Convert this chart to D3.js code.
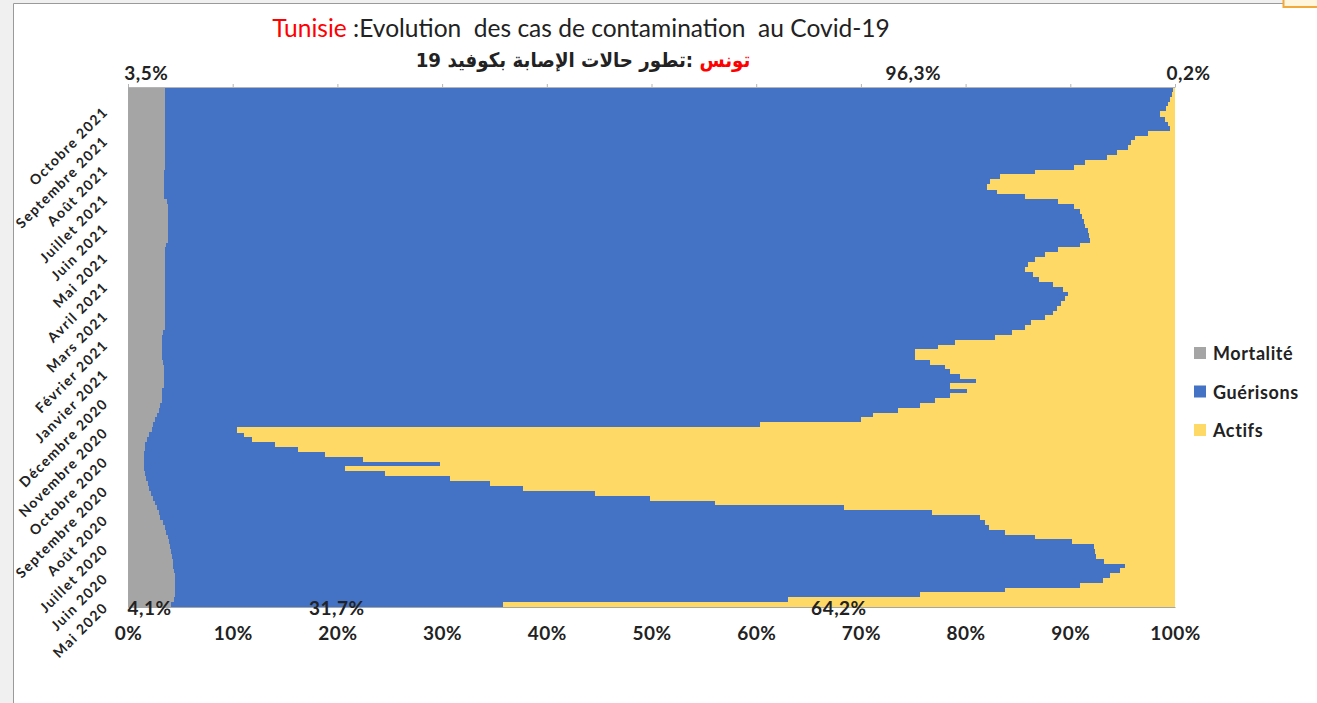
<!DOCTYPE html>
<html>
<head>
<meta charset="utf-8">
<script src="https://d3js.org/d3.v7.min.js"></script>
<style>
body{margin:0;background:#fff;}
svg text{font-family:Lato,"Open Sans",sans-serif;fill:#222;}
</style>
</head>
<body>
<svg id="chart" width="1317" height="703"></svg>
<script>
/* month names on the y axis, oldest first (one label every rowsPerMonth rows) */
var monthLabels = ["Mai 2020","Juin 2020","Juillet 2020","Août 2020","Septembre 2020","Octobre 2020",
    "Novembre 2020","Décembre 2020","Janvier 2021","Février 2021","Mars 2021","Avril 2021",
    "Mai 2021","Juin 2021","Juillet 2021","Août 2021","Septembre 2021","Octobre 2021"];
var rowsPerMonth = 6;

/* share of cases (%), one row per ~5 days, oldest row first */
var mortalite = [
    4.1,4.4,4.5,4.5,4.5,4.5,4.5,4.4,4.3,4.3,
    4.2,4.1,4.0,3.9,3.8,3.6,3.5,3.3,3.1,3.0,
    2.8,2.6,2.4,2.2,2.0,1.9,1.7,1.6,1.5,1.5,
    1.5,1.5,1.6,1.6,1.8,2.0,2.3,2.4,2.6,2.8,
    3.0,3.1,3.2,3.2,3.2,3.4,3.4,3.4,3.4,3.4,
    3.3,3.2,3.2,3.2,3.2,3.2,3.3,3.5,3.5,3.5,
    3.5,3.5,3.5,3.5,3.5,3.5,3.5,3.5,3.5,3.5,
    3.5,3.5,3.5,3.5,3.6,3.8,3.8,3.8,3.8,3.8,
    3.8,3.8,3.8,3.7,3.4,3.4,3.4,3.4,3.4,3.4,
    3.5,3.5,3.5,3.5,3.5,3.5,3.5,3.5,3.5,3.5,
    3.5,3.5,3.5,3.5,3.5,3.5,3.5];
var guerisons = [
    31.7,58.6,71.1,79.3,86.4,88.6,89.3,90.3,90.9,88.9,
    88.3,88.3,88.3,86.3,82.8,80.2,78.7,78.6,78.3,73.8,
    65.6,53.5,47.5,42.4,35.7,32.7,29.1,22.9,19.2,28.3,
    20.9,17.3,14.6,12.4,10.0,9.1,8.1,58.0,67.4,68.4,
    70.5,72.5,73.9,75.3,76.9,75.1,77.6,76.1,75.1,74.6,
    73.3,72.0,72.0,74.2,75.8,79.6,81.1,82.2,82.7,84.1,
    84.8,85.2,85.6,86.0,86.3,85.8,84.8,83.5,82.9,82.2,
    82.5,83.1,84.1,85.3,87.3,88.1,88.0,87.9,87.6,87.5,
    87.3,87.1,86.6,85.1,82.3,79.6,78.6,78.9,79.9,83.2,
    86.9,87.9,90.0,91.0,92.0,92.3,92.7,93.9,96.0,95.8,
    95.5,95.1,95.6,95.8,96.0,96.2,96.3];

var seriesNames = ["Mortalité","Guérisons","Actifs"];
var seriesColors = ["#a5a5a5","#4472c4","#ffd966"];
var xTicks = [0,10,20,30,40,50,60,70,80,90,100];

var svg = d3.select("#chart");
var plotLeft = 128, plotRight = 1175, plotTop = 87, plotBottom = 607;

/* outer frame of the sheet */
svg.append("rect").attr("x",0).attr("y",0).attr("width",13).attr("height",703).attr("fill","#f0f0f0");
svg.append("rect").attr("x",0).attr("y",0).attr("width",1317).attr("height",3).attr("fill","#f0f0f0");
svg.append("path").attr("d","M13.5,703V3.5H1317").attr("fill","none").attr("stroke","#9a9a9a");
svg.append("rect").attr("x",1283.5).attr("y",-4).attr("width",40).attr("height",11)
    .attr("fill","#fff6dd").attr("stroke","#f2a93b").attr("stroke-width",2);

/* table for the stack, actifs = rest of 100% */
var table = mortalite.map(function(m,i){
    var row = {row:i};
    row["Mortalité"] = m;
    row["Guérisons"] = guerisons[i];
    row["Actifs"] = Math.round((100 - m - guerisons[i])*10)/10;
    return row;
});
var series = d3.stack().keys(seriesNames)(table);

var x = d3.scaleLinear().domain([0,100]).range([plotLeft,plotRight]);
var y = d3.scaleBand().domain(d3.range(table.length)).range([plotBottom,plotTop]).padding(0);
var color = d3.scaleOrdinal().domain(seriesNames).range(seriesColors);

svg.append("g")
    .attr("shape-rendering","crispEdges")
    .selectAll("g")
    .data(series)
    .join("g")
    .attr("fill",function(d){return color(d.key);})
    .selectAll("rect")
    .data(function(d){return d;})
    .join("rect")
    .attr("x",function(d){return x(d[0]);})
    .attr("width",function(d){return x(d[1]) - x(d[0]);})
    .attr("y",function(d){return y(d.data.row);})
    .attr("height",function(d){return d.data.row == 0 ? y.bandwidth() : y.bandwidth() + 0.5;});

/* axes */
var xAxis = svg.append("g")
    .attr("transform","translate(0,"+plotBottom+")")
    .call(d3.axisBottom(x).tickValues(xTicks).tickSize(0).tickPadding(20)
	  .tickFormat(function(d){return d+"%";}));
xAxis.select(".domain").attr("stroke","#a6a6a6");
xAxis.selectAll("text").attr("font-size",19).attr("font-weight","bold")
    .attr("letter-spacing","0.5px").attr("font-family","Lato");

var topAxis = svg.append("g")
    .attr("transform","translate(0,"+plotTop+")")
    .call(d3.axisTop(x).tickValues(xTicks).tickSize(3).tickSizeOuter(0).tickFormat(""));
topAxis.selectAll("path,line").attr("stroke","#b5b5b5");

var yAxis = svg.append("g")
    .attr("transform","translate("+plotLeft+",0)")
    .call(d3.axisLeft(y).tickSize(0).tickSizeOuter(0)
	  .tickValues(d3.range(0,table.length,rowsPerMonth))
	  .tickFormat(function(d){return monthLabels[d/rowsPerMonth];}));
yAxis.select(".domain").attr("stroke","#a6a6a6");
yAxis.selectAll("text")
    .attr("x",0).attr("dy",0)
    .attr("text-anchor","end")
    .attr("transform","translate(-19,4) rotate(-45)")
    .attr("font-size",14).attr("font-weight","bold")
    .attr("letter-spacing","1.4px").attr("font-family","Lato");

/* data labels on the first and last rows */
function pct(v){ return d3.format(".1f")(v).replace(".",",") + "%"; }
var first = series.map(function(s){return s[0];});
var last = series.map(function(s){return s[s.length-1];});

svg.append("g").selectAll("text")
    .data(first)
    .join("text")
    .attr("x",function(d){return x((d[0]+d[1])/2);})
    .attr("y",plotBottom+8)
    .attr("text-anchor","middle")
    .attr("font-size",19).attr("font-weight","bold").attr("letter-spacing","0.5px")
    .text(function(d){return pct(d[1]-d[0]);});

/* labels of the last row sit above the plot, the middle one moved left as in the source */
var topLabelPos = [null, 75, 101.3];
svg.append("g").selectAll("text")
    .data(last)
    .join("text")
    .attr("x",function(d,i){return topLabelPos[i] == null ? x((d[0]+d[1])/2) : x(topLabelPos[i]);})
    .attr("y",plotTop-7)
    .attr("text-anchor","middle")
    .attr("font-size",19).attr("font-weight","bold").attr("letter-spacing","0.5px")
    .text(function(d){return pct(d[1]-d[0]);});

/* legend */
var legend = svg.append("g").selectAll("g")
    .data(seriesNames)
    .join("g")
    .attr("transform",function(d,i){return "translate(1194,"+(347 + i*38.5)+")";});
legend.append("rect").attr("width",12).attr("height",12).attr("fill",function(d){return color(d);});
legend.append("text").attr("x",19).attr("y",13)
    .attr("font-size",18).attr("font-weight","bold").attr("letter-spacing","0.6px")
    .text(function(d){return d;});

/* titles, stretched to the width they take in the source */
function fitWidth(sel, w){
    var l = sel.node().getComputedTextLength();
    sel.attr("font-size", (+sel.attr("font-size"))*w/l);
}
var t1 = svg.append("text").attr("x",581).attr("y",37).attr("text-anchor","middle").attr("font-size",22);
t1.append("tspan").style("fill","#ff0000").text("Tunisie");
t1.append("tspan").text(" :Evolution\u00a0 des cas de contamination\u00a0 au Covid-19");
fitWidth(t1,618);

/* arabic line: keep the source height, squeeze it sideways */
var t2 = svg.append("text").attr("x",0).attr("y",0).attr("text-anchor","middle")
    .attr("direction","rtl").attr("font-size",20).attr("font-weight","bold")
    .style("font-family","'DejaVu Sans',sans-serif");
t2.append("tspan").style("fill","#ff0000").text("تونس");
t2.append("tspan").text(" :تطور حالات الإصابة بكوفيد 19");
var sx = 335/t2.node().getComputedTextLength();
t2.attr("transform","translate(583,67) scale("+sx+",1)");
</script>
</body>
</html>
